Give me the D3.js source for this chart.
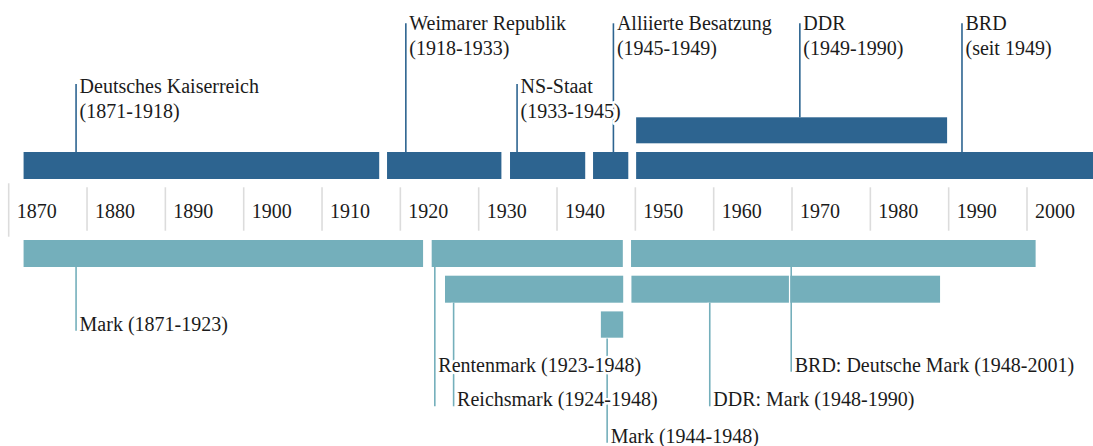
<!DOCTYPE html>
<html><head><meta charset="utf-8">
<script src="https://cdn.jsdelivr.net/npm/d3@7"></script>
<style>
body{margin:0;background:#fff}
svg{display:block}
</style>
</head><body><svg id="c" width="1093" height="446" style="font-family:'Liberation Serif','Times New Roman',Tinos,'DejaVu Serif','Noto Serif',serif"></svg>
<script>
// ---- data ----
const tickYears = [1870,1880,1890,1900,1910,1920,1930,1940,1950,1960,1970,1980,1990,2000];

const periodNames  = ["Deutsches Kaiserreich","Weimarer Republik","NS-Staat","Alliierte Besatzung","DDR","BRD"];
const periodSpans  = ["(1871-1918)","(1918-1933)","(1933-1945)","(1945-1949)","(1949-1990)","(seit 1949)"];
const periodFrom   = [1871.9,1918.3,1934.0,1944.6,1950.1,1950.1];
const periodTo     = [1917.3,1932.9,1943.6,1949.1,1989.8,2012];
const periodRow    = [0,0,0,0,1,0];
const periodMarker = [1878.6,1920.7,1934.9,1947.2,1971.0,1991.7];
const periodLevel  = [1,0,1,0,0,0];

const currencyNames  = ["Mark (1871-1923)","Rentenmark (1923-1948)","BRD: Deutsche Mark (1948-2001)","Reichsmark (1924-1948)","DDR: Mark (1948-1990)","Mark (1944-1948)"];
const currencyFrom   = [1871.9,1924.0,1949.45,1925.7,1949.5,1945.6];
const currencyTo     = [1922.9,1948.4,2001.1,1948.45,1988.9,1948.45];
const currencyRow    = [0,0,0,1,1,2];
const currencyMarker = [1878.6,1924.4,1969.9,1926.8,1959.5,1946.4];
const currencyLevel  = [0,1,1,2,2,3];
const currencyLineTo = [0,2,1,2,2,3];

// ---- layout ----
const darkCol = "#2d6490", tealCol = "#74afbb", textCol = "#1b1b1b";
const fontFam = "'Liberation Serif','Times New Roman',Tinos,'DejaVu Serif','Noto Serif',serif";
const svg = d3.select("#c");
const x = d3.scaleLinear().domain([1870, 2000]).range([8.7, 1027]);
const topRowY = d3.scaleLinear().domain([0, 1]).range([152, 117.3]);
const botRowY = d3.scaleLinear().domain([0, 1]).range([240, 275.7]);
const barH = 27;
const topLabelBase = [30, 93];
const topLineTop = [23.3, 84];
const botLabelBase = d3.scaleOrdinal().domain([0,1,2,3]).range([330.7, 371.7, 406.3, 442.7]);

const periods = periodNames.map((n,i)=>({name:n, span:periodSpans[i], from:periodFrom[i], to:periodTo[i], row:periodRow[i], marker:periodMarker[i], level:periodLevel[i]}));
const currencies = currencyNames.map((n,i)=>({name:n, from:currencyFrom[i], to:currencyTo[i], row:currencyRow[i], marker:currencyMarker[i], level:currencyLevel[i], lineTo:currencyLineTo[i]}));

function styleText(sel){
  sel.attr("font-family", fontFam).attr("font-size", 20).attr("fill", textCol);
}

// axis ticks
svg.append("g").selectAll("line").data(tickYears).join("line")
  .attr("x1", d=>x(d)).attr("x2", d=>x(d))
  .attr("y1", (d,i)=> i===0 ? 183.3 : 187.3)
  .attr("y2", (d,i)=> i===0 ? 236.7 : 230.7)
  .attr("stroke", "#dcdcdc").attr("stroke-width", 1.6);
svg.append("g").selectAll("text").data(tickYears).join("text")
  .attr("x", d=>x(d)+8).attr("y", 217.5)
  .call(styleText).text(d=>d);

// top bars
svg.append("g").selectAll("rect").data(periods).join("rect")
  .attr("x", d=>x(d.from)).attr("width", d=>x(Math.min(d.to,2015))-x(d.from))
  .attr("y", d=>topRowY(d.row)).attr("height", d=> d.row===0 ? barH : 26)
  .attr("fill", darkCol);

// bottom bars
svg.append("g").selectAll("rect").data(currencies).join("rect")
  .attr("x", d=>x(d.from)).attr("width", d=>x(d.to)-x(d.from))
  .attr("y", d=>botRowY(d.row)).attr("height", d=> d.row===2 ? 26.3 : barH)
  .attr("fill", tealCol);

// top leader lines
svg.append("g").selectAll("line").data(periods).join("line")
  .attr("x1", d=>x(d.marker)).attr("x2", d=>x(d.marker))
  .attr("y1", d=>topLineTop[d.level]).attr("y2", d=>topRowY(d.row))
  .attr("stroke", darkCol).attr("stroke-width", 1.6);

// bottom leader lines (white casing on the left where they cross bars)
const bl = svg.append("g");
bl.selectAll("line.case").data(currencies).join("line").attr("class","case")
  .attr("x1", d=>x(d.marker)-1.6).attr("x2", d=>x(d.marker)-1.6)
  .attr("y1", d=>botRowY(d.row)+barH).attr("y2", d=>botLabelBase(d.lineTo))
  .attr("stroke", "#fff").attr("stroke-width", 1.4);
bl.selectAll("line.ld").data(currencies).join("line").attr("class","ld")
  .attr("x1", d=>x(d.marker)).attr("x2", d=>x(d.marker))
  .attr("y1", d=>botRowY(d.row)+barH).attr("y2", d=>botLabelBase(d.lineTo))
  .attr("stroke", tealCol).attr("stroke-width", 1.6);

// top labels
const tl = svg.append("g").selectAll("text").data(periods).join("text")
  .attr("x", d=>x(d.marker)+3.5).attr("y", d=>topLabelBase[d.level])
  .call(styleText)
  .attr("stroke","#fff").attr("stroke-width",5).attr("stroke-linejoin","round").attr("paint-order","stroke");
tl.append("tspan").text(d=>d.name);
tl.append("tspan").attr("x", d=>x(d.marker)+3.5).attr("dy", 25).text(d=>d.span);

// bottom labels
svg.append("g").selectAll("text").data(currencies).join("text")
  .attr("x", d=>x(d.marker)+3.5).attr("y", d=>botLabelBase(d.level))
  .call(styleText)
  .attr("stroke","#fff").attr("stroke-width",5).attr("stroke-linejoin","round").attr("paint-order","stroke")
  .text(d=>d.name);
</script>
</body></html>
